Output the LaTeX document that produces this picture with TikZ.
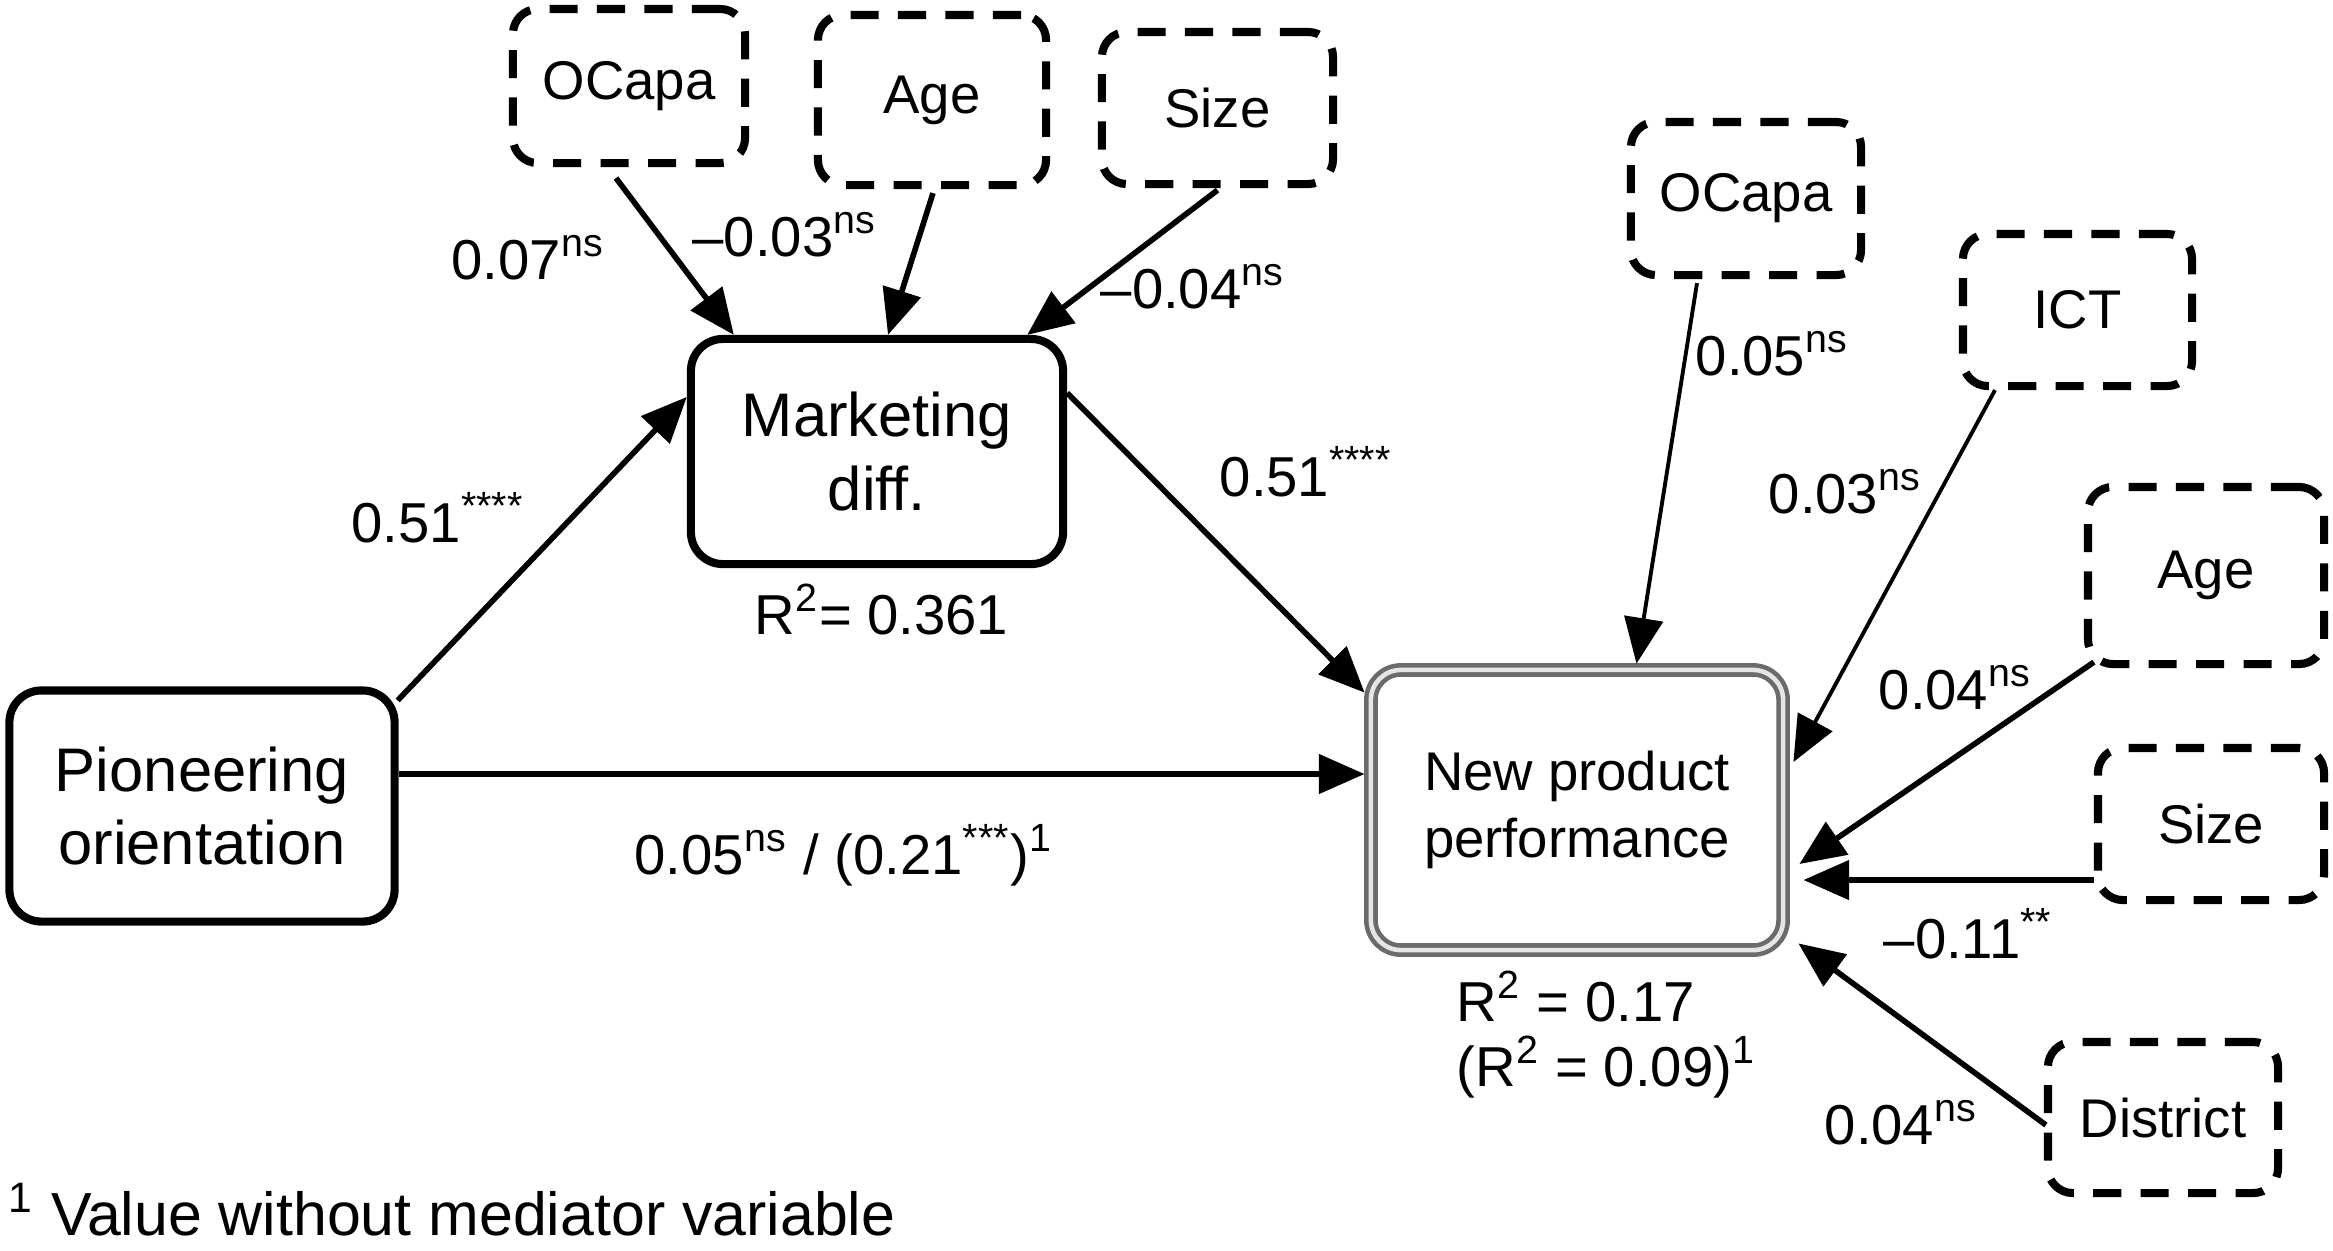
\documentclass[tikz,border=0pt]{standalone}
\usepackage{fontspec}
\setmainfont{Liberation Sans}
\usetikzlibrary{arrows.meta}
\begin{document}
\begin{tikzpicture}[x=0.01cm,y=-0.01cm,
  solidbox/.style={draw, line width=2.3pt, rounded corners=0.32cm, align=center, font=\fontsize{17.5}{21}\selectfont, inner sep=0pt},
  dashbox/.style={draw, line width=2.3pt, dash pattern=on 8pt off 5.5pt, rounded corners=0.25cm, align=center, font=\fontsize{15.5}{19}\selectfont, inner sep=0pt},
  nppbox/.style={draw=black!58, line width=1.3pt, double=black!10, double distance=1.3pt, rounded corners=0.3cm, align=center, font=\fontsize{15.5}{19}\selectfont, inner sep=0pt},
  lbl/.style={anchor=base west, inner sep=0pt, font=\fontsize{16}{19}\selectfont},
  arr/.style={line width=1.6pt, -{Triangle[length=13pt,width=11pt]}},
  thinarr/.style={line width=1.1pt, -{Triangle[length=13pt,width=11pt]}},
]
\useasboundingbox (0,0) rectangle (2333,1250);

% nodes
\node[dashbox, minimum width=2.32cm, minimum height=1.54cm] (ocapa1) at (629,86) {OCapa};
\node[dashbox, minimum width=2.28cm, minimum height=1.7cm] (age1) at (932,100) {Age};
\node[dashbox, minimum width=2.31cm, minimum height=1.52cm] (size1) at (1217.5,108) {Size};
\node[solidbox, minimum width=3.72cm, minimum height=2.25cm] (mkt) at (877,451.5) {Marketing\\diff.};
\node[solidbox, minimum width=3.85cm, minimum height=2.31cm] (pio) at (202,806) {Pioneering\\orientation};
\node[nppbox, minimum width=4.12cm, minimum height=2.8cm] (npp) at (1577,810) {New product\\performance};
\node[dashbox, minimum width=2.3cm, minimum height=1.53cm] (ocapa2) at (1746,198.5) {OCapa};
\node[dashbox, minimum width=2.29cm, minimum height=1.52cm] (ict) at (2077.5,310) {ICT};
\node[dashbox, minimum width=2.36cm, minimum height=1.77cm] (age2) at (2206,575.5) {Age};
\node[dashbox, minimum width=2.26cm, minimum height=1.52cm] (size2) at (2211,824) {Size};
\node[dashbox, minimum width=2.3cm, minimum height=1.51cm] (district) at (2163,1117.5) {District};

% labels
\node[lbl] (l1) at (451,279) {0.07\textsuperscript{ns}};
\node[lbl] (l2) at (692,256) {–0.03\textsuperscript{ns}};
\node[lbl] (l3) at (1100,308) {–0.04\textsuperscript{ns}};
\node[lbl] (l4) at (351,542) {0.51\textsuperscript{****}};
\node[lbl] (l5) at (1219,496) {0.51\textsuperscript{****}};
\node[lbl] (r2a) at (754,634) {R\textsuperscript{2}= 0.361};
\node[lbl] (l6) at (634,874) {0.05\textsuperscript{ns} / (0.21\textsuperscript{***})\textsuperscript{1}};
\node[lbl] (l7) at (1695,375) {0.05\textsuperscript{ns}};
\node[lbl] (l8) at (1768,513) {0.03\textsuperscript{ns}};
\node[lbl] (l9) at (1878,709) {0.04\textsuperscript{ns}};
\node[lbl] (l10) at (1883,958) {–0.11\textsuperscript{**}};
\node[lbl] (l11) at (1824,1144) {0.04\textsuperscript{ns}};
\node[lbl] (r2b) at (1456,1021) {R\textsuperscript{2} = 0.17};
\node[lbl] (r2c) at (1456,1086) {(R\textsuperscript{2} = 0.09)\textsuperscript{1}};
\node[lbl, font=\fontsize{17.3}{20}\selectfont] (fn) at (8,1235) {\textsuperscript{1} Value without mediator variable};

% connectors
\draw[arr] ([shift={(-13,11)}]ocapa1.south) -- ([shift={(47,0)}]mkt.north west);
\draw[arr] ([shift={(1,4)}]age1.south) -- ([shift={(11,0)}]mkt.north);
\draw[arr] ([shift={(0,2)}]size1.south) -- ([shift={(-40,0)}]mkt.north east);
\draw[arr] ([shift={(-1,14)}]pio.north east) -- ([shift={(0,62)}]mkt.north west);
\draw[arr] ([shift={(0,58)}]mkt.north east) -- ([shift={(-4,25)}]npp.north west);
\draw[arr] ([shift={(0,-32)}]pio.east) -- ([shift={(-4,-36)}]npp.west);
\draw[thinarr] ([shift={(-49,4)}]ocapa2.south) -- ([shift={(59.5,-4)}]npp.north);
\draw[thinarr] ([shift={(-82.5,0)}]ict.south) -- ([shift={(8,-48)}]npp.east);
\draw[arr] ([shift={(10,-6)}]age2.south west) -- ([shift={(14,54)}]npp.east);
\draw[arr] ([shift={(0,56)}]size2.west) -- ([shift={(18,70)}]npp.east);
\draw[arr] ([shift={(2,7.5)}]district.west) -- ([shift={(13,-9)}]npp.south east);
\end{tikzpicture}
\end{document}
